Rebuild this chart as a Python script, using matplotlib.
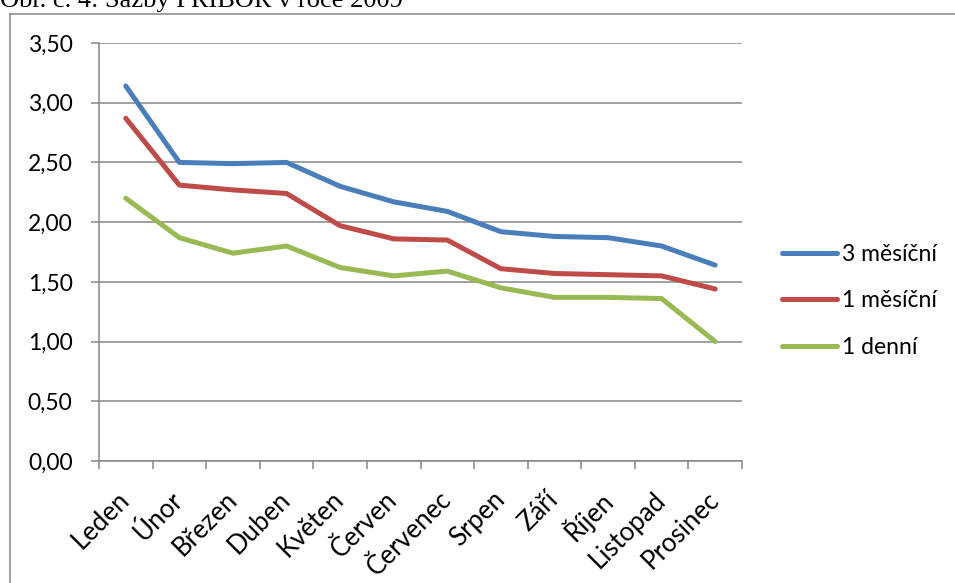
import matplotlib
matplotlib.use("Agg")
import matplotlib.pyplot as plt
from matplotlib.lines import Line2D
from matplotlib.ticker import FixedLocator, FuncFormatter

# data
mesice = ["Leden", "Únor", "Březen", "Duben", "Květen", "Červen",
          "Červenec", "Srpen", "Září", "Říjen", "Listopad", "Prosinec"]
tri_mesicni = [3.14, 2.50, 2.49, 2.50, 2.30, 2.17, 2.09, 1.92, 1.88, 1.87, 1.80, 1.64]
jedno_mesicni = [2.87, 2.31, 2.27, 2.24, 1.97, 1.86, 1.85, 1.61, 1.57, 1.56, 1.55, 1.44]
jedno_denni = [2.20, 1.87, 1.74, 1.80, 1.62, 1.55, 1.59, 1.45, 1.37, 1.37, 1.36, 1.00]

W, H = 955, 583
plt.rcParams['font.family'] = ['Lato', 'DejaVu Sans']

fig = plt.figure(figsize=(W / 100, H / 100), dpi=100)
ax = fig.add_axes([99 / W, 1 - 461 / H, (742 - 99) / W, (461 - 43) / H])

grey = "#868686"
x = list(range(len(mesice)))
ax.plot(x, tri_mesicni, color="#4A7EBB", lw=3.6, solid_capstyle="round", label="3 měsíční")
ax.plot(x, jedno_mesicni, color="#BE4B48", lw=3.6, solid_capstyle="round", label="1 měsíční")
ax.plot(x, jedno_denni, color="#98B954", lw=3.6, solid_capstyle="round", label="1 denní")

# osy
ax.set_xlim(-0.5, len(mesice) - 0.5)
ax.set_ylim(0, 3.5)
ax.set_yticks([i * 0.5 for i in range(8)])
ax.yaxis.set_major_formatter(FuncFormatter(lambda v, p: f"{v:.2f}".replace(".", ",")))
ax.grid(axis="y", color=grey, lw=1.1)
ax.set_axisbelow(True)

ax.xaxis.set_major_locator(FixedLocator([i - 0.5 for i in range(len(mesice) + 1)]))
ax.xaxis.set_major_formatter(FuncFormatter(lambda v, p: ""))
ax.xaxis.set_minor_locator(FixedLocator(x))
ax.set_xticklabels(mesice, minor=True, rotation=45, ha="right", va="center",
                   rotation_mode="anchor", fontsize=18.5)
ax.tick_params(axis="x", which="major", length=6, width=1.1, color=grey, direction="out")
ax.tick_params(axis="x", which="minor", length=0, pad=25)
ax.tick_params(axis="y", length=6, width=1.1, color=grey, labelsize=16.5, pad=13)

for s in ["top", "right"]:
    ax.spines[s].set_visible(False)
for s in ["left", "bottom"]:
    ax.spines[s].set_color(grey)
    ax.spines[s].set_linewidth(1.1)

ax.legend(loc="center left", bbox_to_anchor=(782 / W, 1 - 301 / H),
          bbox_transform=fig.transFigure, frameon=False, fontsize=16.5,
          handlelength=2.4, handletextpad=0.2, labelspacing=1.1,
          borderpad=0, borderaxespad=0)

# ramecek grafu
fig.add_artist(Line2D([10 / W, 10 / W], [0, 1 - 14 / H], color=grey, lw=1.1))
fig.add_artist(Line2D([10 / W, 1], [1 - 14 / H, 1 - 14 / H], color=grey, lw=1.1))

fig.text(0, 1 - 7 / H, "Obr. č. 4: Sazby PRIBOR v roce 2009", family="Liberation Serif",
         fontsize=19, va="baseline", ha="left")

fig.savefig("out.png", dpi=100)
